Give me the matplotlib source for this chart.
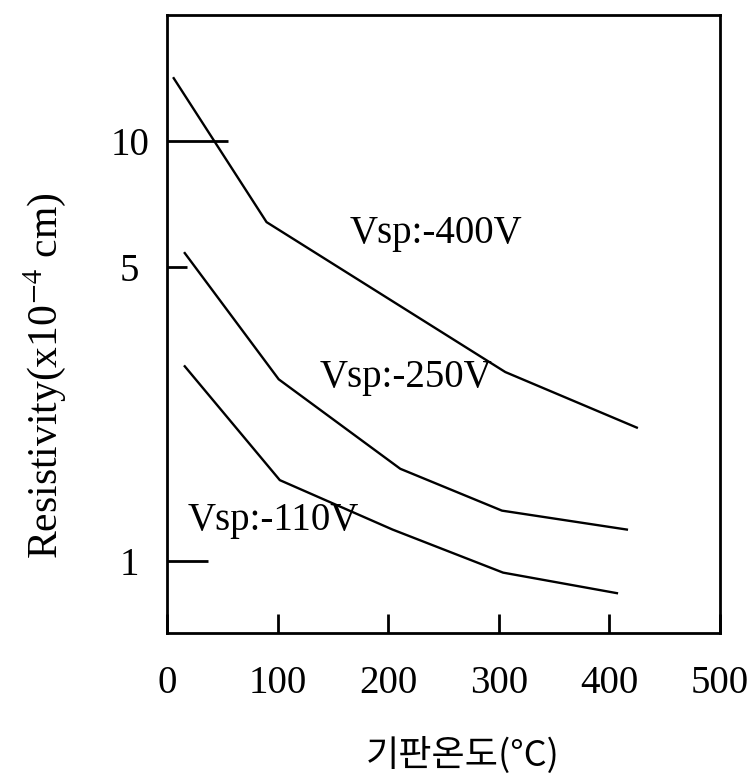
import matplotlib
matplotlib.use("Agg")
import matplotlib.pyplot as plt
from matplotlib.ticker import FixedLocator, NullLocator, FixedFormatter

# data (x: substrate temperature in C, y: resistivity x1e-4)
x_400 = [6, 90, 306, 425]
y_400 = [14.1, 6.41, 2.82, 2.08]

x_250 = [16, 101, 211, 303, 416]
y_250 = [5.41, 2.71, 1.66, 1.32, 1.19]

x_110 = [16, 102, 204, 304, 407]
y_110 = [2.91, 1.56, 1.19, 0.94, 0.84]

series_labels = ["Vsp:-400V", "Vsp:-250V", "Vsp:-110V"]
label_x = [165, 138, 19]
label_y = [5.71, 2.60, 1.185]

x_ticks = [0, 100, 200, 300, 400, 500]
y_ticks = [1, 5, 10]
y_tick_labels = ["1", "5", "10"]

plt.rcParams["font.family"] = ["Liberation Serif", "DejaVu Serif"]
plt.rcParams["mathtext.fontset"] = "stix"

fig = plt.figure(figsize=(7.56, 7.8), dpi=100)
ax = fig.add_axes([0.221, 0.188, 0.731, 0.793])

for xs, ys in [(x_400, y_400), (x_250, y_250), (x_110, y_110)]:
    ax.plot(xs, ys, color="black", lw=1.7)

for txt, tx, ty in zip(series_labels, label_x, label_y):
    ax.text(tx, ty, txt, fontsize=28, ha="left", va="baseline")

ax.set_yscale("log")
ax.set_xlim(0, 500)
ax.set_ylim(0.674, 19.95)

ax.xaxis.set_major_locator(FixedLocator(x_ticks))
ax.yaxis.set_major_locator(FixedLocator(y_ticks))
ax.yaxis.set_major_formatter(FixedFormatter(y_tick_labels))
ax.yaxis.set_minor_locator(NullLocator())
ax.xaxis.set_minor_locator(NullLocator())

ax.tick_params(axis="x", direction="in", length=14, width=2, labelsize=28, pad=23)
ax.tick_params(axis="y", direction="in", length=14, width=2, labelsize=28, pad=27)
for lab in ax.get_yticklabels():
    lab.set_horizontalalignment("center")
# the y tick marks have different lengths in the original
for t, size in zip(ax.yaxis.get_major_ticks(), [29.5, 14.4, 44]):
    t.tick1line.set_markersize(size)

for sp in ax.spines.values():
    sp.set_linewidth(2)

ax.set_ylabel("Resistivity(x10$^{-4}$ cm)", fontsize=30)
ax.set_xlabel("기판온도(°C)", fontsize=26, family=["Noto Sans CJK KR", "DejaVu Sans"])
ax.xaxis.set_label_coords(0.535, -0.168)
ax.yaxis.set_label_coords(-0.18, 0.417)

fig.savefig("out.png", dpi=100)
